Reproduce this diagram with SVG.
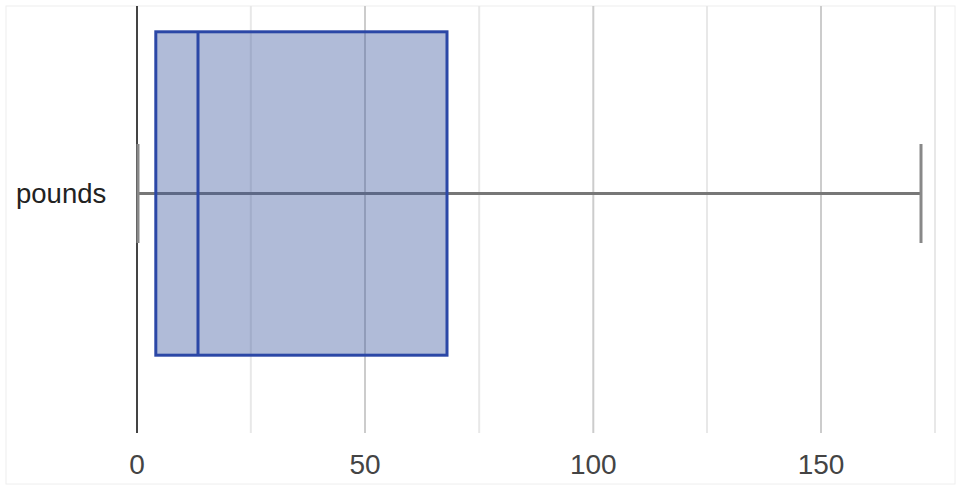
<svg xmlns="http://www.w3.org/2000/svg" width="962" height="492" viewBox="0 0 962 492">
<style>
.major{stroke:#cccccc;stroke-width:2}
.minor{stroke:#e8e8e8;stroke-width:2}
.tick{font-family:"Liberation Sans",Arial,sans-serif;font-size:28px;fill:#444;text-anchor:middle}
.cat{font-family:"Liberation Sans",Arial,sans-serif;font-size:27.5px;fill:#222;text-anchor:start}
.whisk{stroke:#777;stroke-width:3;fill:none}
.cap{stroke:#888;stroke-width:3;fill:none}
</style>
<rect x="0" y="0" width="962" height="492" fill="#ffffff"/>
<rect x="6" y="6" width="949" height="478" fill="#ffffff" stroke="#eeeeee" stroke-width="1"/>
<g id="grid">
<line class="minor" x1="250.8" y1="6" x2="250.8" y2="433"/>
<line class="major" x1="365" y1="6" x2="365" y2="433"/>
<line class="minor" x1="479.2" y1="6" x2="479.2" y2="433"/>
<line class="major" x1="593.3" y1="6" x2="593.3" y2="433"/>
<line class="minor" x1="707" y1="6" x2="707" y2="433"/>
<line class="major" x1="821" y1="6" x2="821" y2="433"/>
<line class="minor" x1="935" y1="6" x2="935" y2="433"/>
</g>
<g id="axis">
<line x1="137" y1="6" x2="137" y2="433" stroke="#444" stroke-width="2"/>
<text class="tick" x="137" y="474">0</text>
<text class="tick" x="365" y="474">50</text>
<text class="tick" x="593.3" y="474">100</text>
<text class="tick" x="821" y="474">150</text>
<text class="cat" x="16" y="203">pounds</text>
</g>
<g id="connectors">
<line class="whisk" x1="137" y1="193.5" x2="921" y2="193.5"/>
<line class="cap" x1="138" y1="144" x2="138" y2="243"/>
<line class="cap" x1="921" y1="144" x2="921" y2="243"/>
</g>
<g id="box">
<rect x="155.8" y="31.8" width="291.2" height="323.4" fill="#3a559e" fill-opacity="0.4" stroke="#2b47a6" stroke-width="3"/>
<line x1="198" y1="31.8" x2="198" y2="355.2" stroke="#2b47a6" stroke-width="3"/>
</g>
</svg>
